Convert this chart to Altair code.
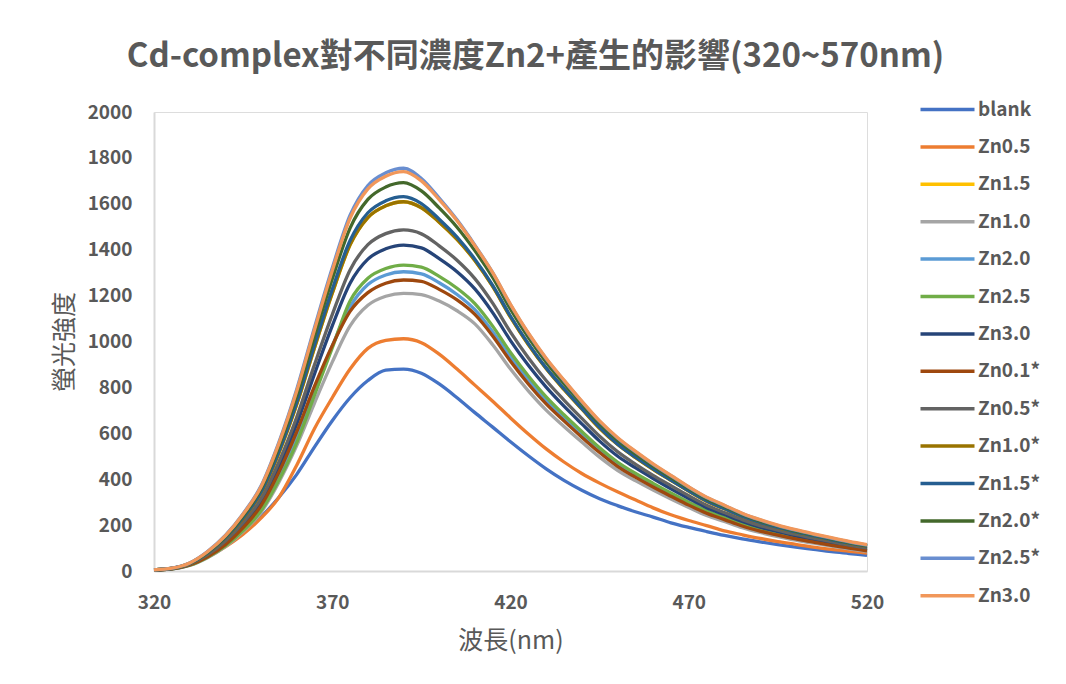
import altair as alt
import pandas as pd

# ---------------- data ----------------
wavelength = [320, 325, 330, 335, 340, 345, 350, 355, 360, 365, 370, 375, 380, 385, 390,
              395, 400, 405, 410, 415, 420, 425, 430, 435, 440, 445, 450, 455, 460, 465,
              470, 475, 480, 485, 490, 495, 500, 505, 510, 515, 520]

blank = [5, 11, 30, 65, 110, 165, 235, 320, 420, 540, 655, 755, 830, 875, 880,
         862, 815, 755, 690, 627, 563, 502, 445, 395, 352, 315, 285, 258, 235, 210,
         190, 172, 155, 140, 127, 115, 104, 94, 84, 76, 68]
zn05 = [5, 10, 28, 60, 105, 160, 230, 320, 460, 620, 755, 880, 970, 1005, 1012,
        995, 945, 880, 810, 740, 667, 597, 532, 475, 425, 383, 345, 310, 275, 245,
        220, 198, 175, 158, 142, 128, 116, 104, 94, 86, 78]
zn15 = [5, 11, 32, 77, 142, 228, 340, 513, 724, 972, 1210, 1421, 1540, 1591, 1609,
        1583, 1520, 1445, 1353, 1240, 1106, 987, 882, 791, 706, 622, 552, 495, 443, 395,
        348, 304, 271, 238, 211, 189, 169, 152, 136, 120, 107]
zn10 = [4, 8, 24, 58, 106, 172, 255, 386, 545, 731, 910, 1068, 1158, 1197, 1210,
        1204, 1176, 1134, 1077, 986, 880, 785, 701, 630, 562, 496, 439, 394, 353, 314,
        277, 242, 216, 189, 168, 150, 134, 121, 108, 96, 85]
zn20 = [4, 9, 26, 63, 115, 185, 275, 416, 587, 788, 981, 1151, 1248, 1290, 1304,
        1295, 1256, 1205, 1139, 1043, 931, 831, 742, 666, 594, 525, 465, 417, 373, 332,
        293, 256, 228, 200, 177, 159, 142, 128, 114, 101, 90]
zn25 = [4, 9, 25, 60, 109, 176, 262, 395, 558, 765, 972, 1177, 1276, 1318, 1333,
        1324, 1284, 1232, 1165, 1067, 952, 850, 759, 681, 608, 537, 475, 426, 382, 340,
        300, 262, 233, 204, 181, 163, 145, 131, 117, 104, 92]
zn30 = [4, 10, 28, 68, 125, 202, 300, 453, 639, 858, 1068, 1254, 1359, 1404, 1420,
        1408, 1361, 1304, 1229, 1126, 1004, 896, 801, 718, 641, 566, 501, 450, 403, 358,
        316, 276, 246, 216, 191, 172, 153, 138, 123, 109, 97]
zn01s = [4, 9, 26, 62, 115, 189, 284, 429, 605, 804, 982, 1131, 1213, 1254, 1268,
         1262, 1227, 1181, 1118, 1024, 914, 815, 728, 654, 583, 516, 456, 409, 366, 326,
         287, 252, 224, 196, 174, 156, 140, 126, 112, 100, 88]
zn05s = [4, 10, 30, 71, 131, 211, 314, 474, 669, 898, 1117, 1312, 1422, 1470, 1486,
         1469, 1417, 1354, 1274, 1167, 1041, 929, 830, 745, 665, 587, 520, 466, 417, 372,
         328, 287, 255, 224, 198, 178, 159, 143, 128, 113, 101]
zn10s = [5, 11, 32, 77, 142, 228, 340, 513, 724, 972, 1210, 1421, 1540, 1591, 1609,
         1583, 1520, 1445, 1353, 1240, 1106, 987, 882, 791, 706, 622, 552, 495, 443, 395,
         348, 304, 271, 238, 211, 189, 169, 152, 136, 120, 107]
zn15s = [5, 11, 33, 78, 144, 232, 344, 520, 734, 985, 1227, 1440, 1561, 1613, 1631,
         1601, 1533, 1455, 1359, 1245, 1110, 991, 885, 795, 709, 626, 554, 497, 445, 396,
         349, 306, 272, 239, 212, 190, 170, 153, 136, 121, 108]
zn20s = [5, 12, 34, 81, 149, 240, 357, 540, 761, 1022, 1272, 1494, 1619, 1673, 1692,
         1656, 1582, 1498, 1396, 1279, 1141, 1018, 910, 816, 728, 642, 570, 511, 457, 407,
         359, 314, 280, 245, 217, 195, 174, 157, 140, 124, 110]
zn25s = [5, 12, 35, 85, 155, 250, 370, 560, 790, 1060, 1320, 1550, 1680, 1735, 1755,
         1710, 1625, 1530, 1420, 1300, 1160, 1035, 925, 830, 738, 652, 580, 520, 465, 415,
         365, 320, 285, 250, 222, 198, 178, 160, 143, 127, 113]
zn30b = [5, 12, 35, 84, 153, 247, 366, 554, 782, 1050, 1308, 1537, 1665, 1720, 1740,
         1700, 1618, 1526, 1418, 1300, 1162, 1037, 927, 832, 740, 654, 582, 522, 467, 417,
         367, 322, 287, 252, 224, 200, 180, 162, 145, 129, 115]

series_names = ["blank", "Zn0.5", "Zn1.5", "Zn1.0", "Zn2.0", "Zn2.5", "Zn3.0",
                "Zn0.1*", "Zn0.5*", "Zn1.0*", "Zn1.5*", "Zn2.0*", "Zn2.5*", "Zn3.0 "]
series_values = [blank, zn05, zn15, zn10, zn20, zn25, zn30,
                 zn01s, zn05s, zn10s, zn15s, zn20s, zn25s, zn30b]
series_colors = ["#4472C4", "#ED7D31", "#FFC000", "#A5A5A5", "#5B9BD5", "#70AD47", "#264478",
                 "#9E480E", "#636363", "#997300", "#255E91", "#43682B", "#698ED0", "#F1975A"]

x_ticks = [320, 370, 420, 470, 520]
y_ticks = [0, 200, 400, 600, 800, 1000, 1200, 1400, 1600, 1800, 2000]

rows = []
for name, vals in zip(series_names, series_values):
    for w, v in zip(wavelength, vals):
        rows.append({"nm": w, "intensity": v, "series": name})
df = pd.DataFrame(rows)

FONT = "Noto Sans CJK TC"
GREY = "#595959"

x_enc = alt.X("nm:Q", scale=alt.Scale(domain=[320, 520], nice=False, zero=False),
              axis=alt.Axis(values=x_ticks, title="波長(nm)", ticks=False, grid=False,
                            format="d",
                            labelFont=FONT, labelFontSize=19, labelFontWeight="bold",
                            labelColor=GREY, labelPadding=22, labelFlush=False,
                            titleFont=FONT, titleFontSize=25, titleFontWeight="normal",
                            titleColor=GREY, titlePadding=16,
                            domainColor="#D9D9D9", domainWidth=2))
y_enc = alt.Y("intensity:Q", scale=alt.Scale(domain=[0, 2000], nice=False),
              axis=alt.Axis(values=y_ticks, title="螢光強度", ticks=False, grid=False,
                            format="d",
                            labelFont=FONT, labelFontSize=19, labelFontWeight="bold",
                            labelColor=GREY, labelPadding=22, labelFlush=False,
                            titleFont=FONT, titleFontSize=25, titleFontWeight="normal",
                            titleColor=GREY, titlePadding=10,
                            domainColor="#D9D9D9", domainWidth=2))
legend = alt.Legend(title=None, orient="none", legendX=784, legendY=-12,
                    symbolType="M-27,0H27", symbolSize=4, symbolStrokeWidth=3.5,
                    labelFont=FONT, labelFontSize=19, labelFontWeight="bold",
                    labelColor=GREY, labelOffset=21, rowPadding=17.4, padding=0)
c_enc = alt.Color("series:N", scale=alt.Scale(domain=series_names, range=series_colors),
                  legend=legend, sort=series_names)

layers = []
for name in series_names:
    layers.append(
        alt.Chart(df)
        .transform_filter(alt.datum.series == name)
        .mark_line(strokeWidth=3.3, interpolate="monotone")
        .encode(x=x_enc, y=y_enc, color=c_enc)
    )

chart = alt.layer(*layers).properties(
    width=713, height=459,
    autosize="none",
    padding={"left": 154, "top": 112, "right": 199, "bottom": 113},
    title=alt.TitleParams(text="Cd-complex對不同濃度Zn2+產生的影響(320~570nm)",
                          font=FONT, fontSize=33, fontWeight="bold", color=GREY,
                          anchor="middle", frame="group", dx=25, offset=26),
).configure_view(stroke="#D9D9D9", strokeWidth=2).configure(background="white")

chart.save("out.html", embed_options={"renderer": "svg", "actions": False})
